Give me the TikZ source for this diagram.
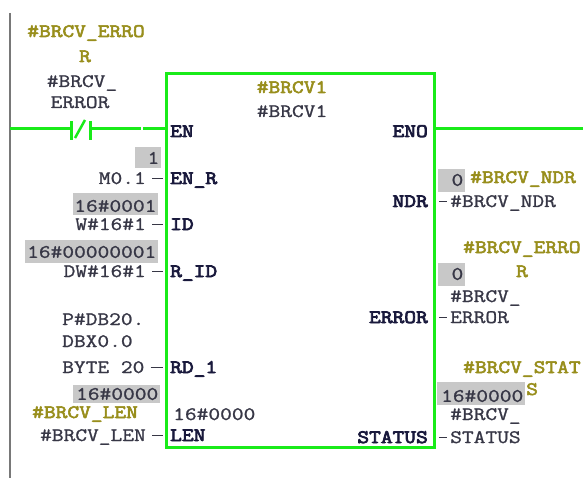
\documentclass[tikz,border=0pt]{standalone}
\usepackage{fontspec}
\newfontfamily\monof{Latin Modern Mono}[FakeStretch=1.2, FakeBold=1.2]
\newfontfamily\monobf{Latin Modern Mono}[FakeStretch=1.2, FakeBold=3]
\newfontfamily\monopin{Latin Modern Mono}[FakeStretch=1.2, FakeBold=4]
\newcommand\opfont{\monof\fontsize{19}{23}\selectfont}
\newcommand\bfmono{\monobf\fontsize{19}{23}\selectfont}
\newcommand\pinmono{\monopin\fontsize{19}{23}\selectfont}
\definecolor{opcol}{RGB}{55,55,70}
\definecolor{olcol}{RGB}{152,142,28}
\definecolor{pincol}{RGB}{25,25,60}
\definecolor{valgray}{RGB}{200,200,200}
\definecolor{ladgreen}{RGB}{25,235,25}
\definecolor{railgray}{RGB}{120,120,120}
\begin{document}
\begin{tikzpicture}[x=1pt,y=-1pt,
  txt/.style={inner sep=0pt, text height=11pt, text depth=0pt},
  op/.style={txt, font=\opfont, text=opcol},
  ol/.style={txt, font=\bfmono, text=olcol},
  pin/.style={txt, font=\pinmono, text=pincol},
  val/.style={font=\opfont, text=opcol, fill=valgray, inner xsep=1.5pt, inner ysep=0pt, align=right, anchor=south east},
  wire/.style={draw=ladgreen, line width=3pt},
  stub/.style={draw=opcol, line width=1.4pt},
  rail/.style={draw=railgray, line width=2.5pt}]
\useasboundingbox (0,0) rectangle (583,478);
% rail
\coordinate (railtop) at (10,13);
\coordinate (railbot) at (10,478);
\draw[rail] (railtop) -- (railbot);
% function block
\node[draw=ladgreen, line width=3pt, minimum width=268pt, minimum height=374pt, inner sep=0pt, anchor=north west] (fb) at (165,72) {};
% rung with normally closed contact
\coordinate (r0) at (10,129);
\coordinate (cl) at (71,129);
\coordinate (cr) at (90,129);
\coordinate (gap1) at (141,129);
\coordinate (gap2) at (143,129);
\draw[wire] (r0) -- (cl);
\draw[wire] ([yshift=-11pt]cl) -- ([yshift=8pt]cl);
\draw[wire] ([yshift=-11pt]cr) -- ([yshift=8pt]cr);
\draw[draw=ladgreen, line width=2.5pt] (75,138) -- (85,120);
\draw[wire] (cr) -- (gap1);
\draw[wire] (gap2) -- (gap2 -| fb.west);
\coordinate (enoout) at (583,129);
\draw[wire] (enoout -| fb.east) -- (enoout);
% contact labels
\node[ol, anchor=base] (c1) at (86,37) {\#BRCV\_ERRO};
\node[ol, anchor=base] (c2) at (85,62) {R};
\node[op, anchor=base] (c3) at (82,87) {\#BRCV\_};
\node[op, anchor=base] (c4) at (80,108) {ERROR};
% block title
\node[ol, anchor=base] (t1) at (292,93) {\#BRCV1};
\node[op, anchor=base] (t2) at (292,117) {\#BRCV1};
% pins
\node[pin, anchor=base west] (en) at (170,137) {EN};
\node[pin, anchor=base west] (enr) at (170,184) {EN\_R};
\node[pin, anchor=base west] (id) at (170,230) {ID};
\node[pin, anchor=base west] (rid) at (170,277) {R\_ID};
\node[pin, anchor=base west] (rd1) at (170,373) {RD\_1};
\node[pin, anchor=base west] (len) at (170,441) {LEN};
\node[pin, anchor=base east] (eno) at (428,137) {ENO};
\node[pin, anchor=base east] (ndr) at (428,207) {NDR};
\node[pin, anchor=base east] (err) at (428,323) {ERROR};
\node[pin, anchor=base east] (stat) at (428,443) {STATUS};
\node[op, anchor=base west] (lenval) at (173,420) {16\#0000};
% left operands
\node[val, text width=23pt, text height=17pt, text depth=4pt] (v1) at (161,168) {1};
\node[op, anchor=base east] (m01) at (146,184) {M0.1};
\node[val, text width=82pt, text height=19pt, text depth=3pt] (v2) at (158,215) {16\#0001};
\node[op, anchor=base east] (w1) at (146,230) {W\#16\#1};
\node[val, text width=130pt, text height=18pt, text depth=5pt] (v3) at (158,263) {16\#00000001};
\node[op, anchor=base east] (dw1) at (146,277) {DW\#16\#1};
\node[op, anchor=base west] (p1) at (62,325) {P\#DB20.};
\node[op, anchor=base west] (p2) at (62,347) {DBX0.0};
\node[op, anchor=base west] (p3) at (62,373) {BYTE 20};
\node[val, text width=84pt, text height=15pt, text depth=3pt] (v4) at (160,403) {16\#0000};
\node[ol, anchor=base west] (lenol) at (32,418) {\#BRCV\_LEN};
\node[op, anchor=base east] (lenop) at (146,441) {\#BRCV\_LEN};
% right operands
\node[val, text width=24pt, text height=17pt, text depth=6pt] (v5) at (465,192) {0};
\node[ol, anchor=base west] (ndrol) at (470,183) {\#BRCV\_NDR};
\node[op, anchor=base west] (ndrop) at (450,207) {\#BRCV\_NDR};
\node[ol, anchor=base west] (errol1) at (463,253) {\#BRCV\_ERRO};
\node[ol, anchor=base] (errol2) at (522,277) {R};
\node[val, text width=24pt, text height=17pt, text depth=6pt] (v6) at (465,286) {0};
\node[op, anchor=base west] (errop1) at (450,302) {\#BRCV\_};
\node[op, anchor=base west] (errop2) at (450,323) {ERROR};
\node[ol, anchor=base west] (statol1) at (463,373) {\#BRCV\_STAT};
\node[ol, anchor=base west] (statol2) at (526,395) {S};
\node[val, text width=85pt, text height=20pt, text depth=3pt] (v7) at (525,405) {16\#0000};
\node[op, anchor=base west] (statop1) at (450,420) {\#BRCV\_};
\node[op, anchor=base west] (statop2) at (450,443) {STATUS};
% stubs
\draw[stub, shorten <=6pt, shorten >=2pt] (m01.east) -- (m01.east -| fb.west);
\draw[stub, shorten <=6pt, shorten >=2pt] (w1.east) -- (w1.east -| fb.west);
\draw[stub, shorten <=6pt, shorten >=2pt] (dw1.east) -- (dw1.east -| fb.west);
\draw[stub, shorten <=6pt, shorten >=2pt] (p3.east) -- (p3.east -| fb.west);
\draw[stub, shorten <=6pt, shorten >=2pt] (lenop.east) -- (lenop.east -| fb.west);
\draw[stub, shorten <=3pt, shorten >=3pt] (ndrop.west -| fb.east) -- (ndrop.west);
\draw[stub, shorten <=3pt, shorten >=3pt] (errop2.west -| fb.east) -- (errop2.west);
\draw[stub, shorten <=3pt, shorten >=3pt] (statop2.west -| fb.east) -- (statop2.west);
\end{tikzpicture}
\end{document}
